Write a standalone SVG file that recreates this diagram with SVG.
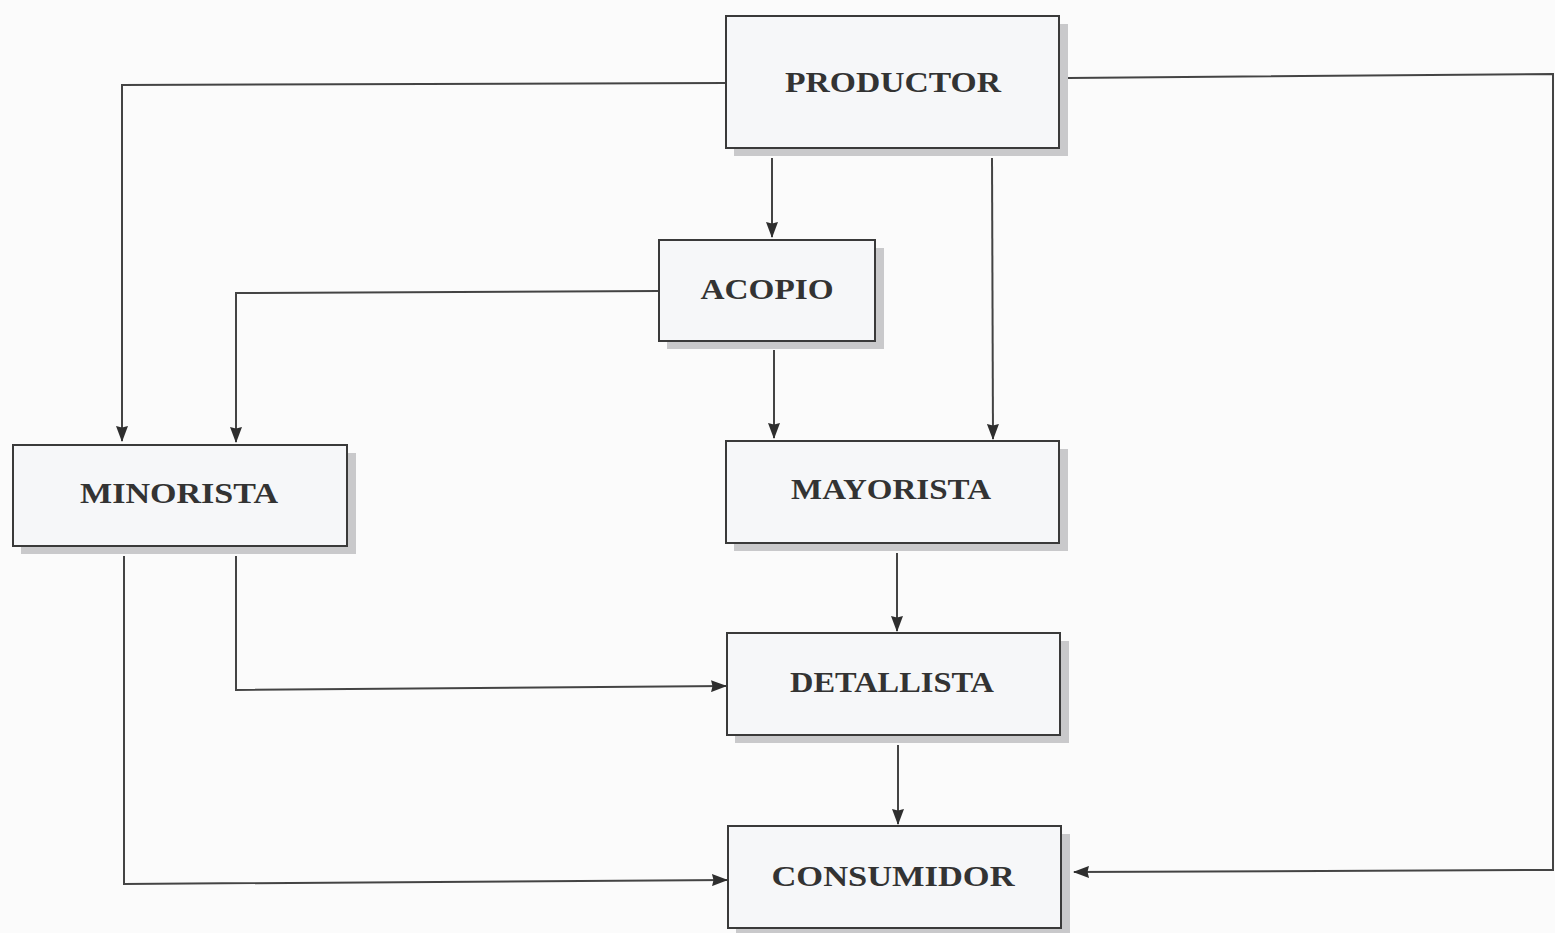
<svg xmlns="http://www.w3.org/2000/svg" width="1555" height="933" viewBox="0 0 1555 933">
<style>
.bg{fill:#fbfbfb}
.shadow{fill:#c9c9cb}
.box{fill:#f6f7f9;stroke:#3a3a3a;stroke-width:2}
.lbl{font-family:"Liberation Serif","Times New Roman",serif;font-weight:bold;font-size:30px;fill:#333;text-anchor:middle}
.ln{fill:none;stroke:#444;stroke-width:2}
</style>
<defs>
<marker id="ah" viewBox="0 0 16 12" refX="15" refY="6" markerWidth="16" markerHeight="12" markerUnits="userSpaceOnUse" orient="auto">
<path d="M0,0 L16,6 L0,12 L1.5,6 Z" fill="#2e2e2e"/>
</marker>
</defs>
<rect class="bg" x="0" y="0" width="1555" height="933"/>
<g id="connectors">
<path class="ln" d="M726,83 L122,85 L122,441" marker-end="url(#ah)"/>
<path class="ln" d="M1068,78 L1553,74 L1553,870 L1074,872" marker-end="url(#ah)"/>
<path class="ln" d="M772,158 L772,237" marker-end="url(#ah)"/>
<path class="ln" d="M992,158 L993,439" marker-end="url(#ah)"/>
<path class="ln" d="M659,291 L236,293 L236,442" marker-end="url(#ah)"/>
<path class="ln" d="M774,350 L774,438" marker-end="url(#ah)"/>
<path class="ln" d="M897,553 L897,631" marker-end="url(#ah)"/>
<path class="ln" d="M236,556 L236,690 L726,686" marker-end="url(#ah)"/>
<path class="ln" d="M124,556 L124,884 L727,880" marker-end="url(#ah)"/>
<path class="ln" d="M898,745 L898,824" marker-end="url(#ah)"/>
</g>
<g id="productor">
<rect class="shadow" x="734" y="24" width="334" height="132"/>
<rect class="box" x="726" y="16" width="333" height="132"/>
<text class="lbl" x="893" y="92" textLength="216" lengthAdjust="spacingAndGlyphs">PRODUCTOR</text>
</g>
<g id="acopio">
<rect class="shadow" x="667" y="248" width="217" height="101"/>
<rect class="box" x="659" y="240" width="216" height="101"/>
<text class="lbl" x="767" y="299" textLength="133" lengthAdjust="spacingAndGlyphs">ACOPIO</text>
</g>
<g id="minorista">
<rect class="shadow" x="21" y="453" width="335" height="101"/>
<rect class="box" x="13" y="445" width="334" height="101"/>
<text class="lbl" x="179" y="503" textLength="198" lengthAdjust="spacingAndGlyphs">MINORISTA</text>
</g>
<g id="mayorista">
<rect class="shadow" x="734" y="449" width="334" height="102"/>
<rect class="box" x="726" y="441" width="333" height="102"/>
<text class="lbl" x="891" y="499" textLength="200" lengthAdjust="spacingAndGlyphs">MAYORISTA</text>
</g>
<g id="detallista">
<rect class="shadow" x="735" y="641" width="334" height="102"/>
<rect class="box" x="727" y="633" width="333" height="102"/>
<text class="lbl" x="892" y="692" textLength="204" lengthAdjust="spacingAndGlyphs">DETALLISTA</text>
</g>
<g id="consumidor">
<rect class="shadow" x="736" y="834" width="334" height="102"/>
<rect class="box" x="728" y="826" width="333" height="102"/>
<text class="lbl" x="893" y="886" textLength="243" lengthAdjust="spacingAndGlyphs">CONSUMIDOR</text>
</g>
</svg>
